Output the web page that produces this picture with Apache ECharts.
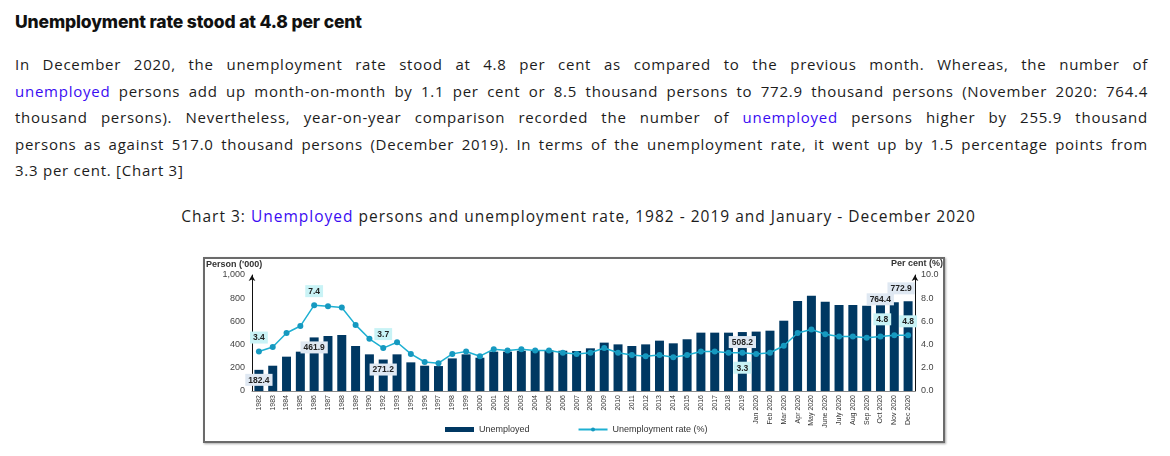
<!DOCTYPE html>
<html>
<head>
<meta charset="utf-8">
<script src="https://cdn.jsdelivr.net/npm/echarts@6/dist/echarts.min.js"></script>
<style>
  html, body { margin: 0; padding: 0; background: #fff; }
  body { width: 1170px; height: 456px; position: relative; overflow: hidden;
         font-family: "Open Sans", "Inter", sans-serif; color: #1c1c1c; }
  .title { position: absolute; left: 15px; top: 11px; font-family: "Inter", sans-serif; font-size: 17.5px;
           font-weight: 800; line-height: 22px; letter-spacing: -0.15px; color: #111; }
  .para { position: absolute; left: 15px; top: 51px; width: 1133px; font-size: 15px; letter-spacing: 0.75px; }
  .para div { height: 26.6px; line-height: 26.6px; text-align: justify; text-align-last: justify; white-space: nowrap; }
  .para div.last { text-align-last: left; }
  .blue { color: #3a0cf2; }
  .caption { position: absolute; left: 0; width: 1157px; top: 205px; text-align: center;
             font-size: 15.5px; line-height: 22px; letter-spacing: 1px; }
  #chart { position: absolute; left: 203px; top: 257px; width: 742px; height: 186px;
           box-sizing: border-box; border: 2px solid #6b6b6b; box-shadow: 1px 1px 2px #aaa; }
</style>
</head>
<body>
<div class="title">Unemployment rate stood at 4.8 per cent</div>
<div class="para">
  <div>In December 2020, the unemployment rate stood at 4.8 per cent as compared to the previous month. Whereas, the number of</div>
  <div><span class="blue">unemployed</span> persons add up month-on-month by 1.1 per cent or 8.5 thousand persons to 772.9 thousand persons (November 2020: 764.4</div>
  <div>thousand persons). Nevertheless, year-on-year comparison recorded the number of <span class="blue">unemployed</span> persons higher by 255.9 thousand</div>
  <div>persons as against 517.0 thousand persons (December 2019). In terms of the unemployment rate, it went up by 1.5 percentage points from</div>
  <div class="last">3.3 per cent. [Chart 3]</div>
</div>
<div class="caption">Chart 3: <span class="blue">Unemployed</span> persons and unemployment rate, 1982 - 2019 and January - December 2020</div>
<div id="chart"></div>

<script>
const categories = [
  "1982", "1983", "1984", "1985", "1986", "1987", "1988", "1989", "1990", "1992", "1993",
  "1995", "1996", "1997", "1998", "1999", "2000", "2001", "2002", "2003", "2004", "2005",
  "2006", "2007", "2008", "2009", "2010", "2011", "2012", "2013", "2014", "2015", "2016",
  "2017", "2018", "2019", "Jan 2020", "Feb 2020", "Mar 2020", "Apr 2020", "May 2020",
  "June 2020", "July 2020", "Aug 2020", "Sep 2020", "Oct 2020", "Nov 2020", "Dec 2020"
];

// unemployed persons ('000)
const unemployed = [
  182.4, 218, 296, 339, 461.9, 474, 483, 388, 316, 271.2, 316,
  247, 218, 215, 281, 316, 287, 339, 339, 347, 345, 350,
  347, 345, 368, 417, 402, 388, 402, 434, 411, 446, 503,
  503, 503, 508.2, 512, 520, 606, 776, 822,
  770, 741, 741, 735, 756, 764.4, 772.9
];

// unemployment rate (%)
const rate = [
  3.4, 3.8, 5.0, 5.6, 7.4, 7.3, 7.2, 5.7, 4.5, 3.7, 4.2,
  3.2, 2.5, 2.4, 3.2, 3.4, 3.0, 3.6, 3.5, 3.6, 3.5, 3.5,
  3.3, 3.2, 3.3, 3.7, 3.3, 3.1, 3.0, 3.1, 2.9, 3.1, 3.4,
  3.4, 3.3, 3.3, 3.2, 3.3, 3.9, 5.0, 5.3,
  4.9, 4.7, 4.7, 4.6, 4.7, 4.8, 4.8
];

const leftTicks = [0, 200, 400, 600, 800, 1000];
const rightTicks = [0, 2, 4, 6, 8, 10];

// points that carry a value label
const barLabelIdx = [0, 4, 9, 35, 46, 47];
const rateLabelIdx = [0, 4, 9, 35, 46, 47];

const fontFam = "Liberation Sans, Arial, sans-serif";
const labelFont = { fontFamily: fontFam, fontSize: 8.5, fontWeight: "bold", color: "#222" };

function barLabel(i) {
  let lab = Object.assign({ show: true, backgroundColor: "#dfe8f2", padding: [2, 3, 1, 3],
    position: "insideTop", distance: 4, formatter: (p) => p.value.toFixed(1) }, labelFont);
  if (i === 46) { lab.position = "top"; lab.distance = -3; lab.offset = [-14, 0]; }
  if (i === 47) { lab.position = "top"; lab.distance = 7; lab.offset = [-7, 0]; }
  return lab;
}

function rateLabel(i) {
  let lab = Object.assign({ show: true, backgroundColor: "#c9f3f6", padding: [2, 3, 1, 3],
    position: "top", distance: 5, formatter: (p) => p.value.toFixed(1) }, labelFont);
  if (i === 35) { lab.position = "bottom"; lab.distance = 6; }
  if (i === 46) { lab.distance = 7; lab.offset = [-12, 0]; }
  return lab;
}

const barData = unemployed.map((v, i) => barLabelIdx.includes(i) ? { value: v, label: barLabel(i) } : v);
const rateData = rate.map((v, i) => rateLabelIdx.includes(i) ? { value: v, label: rateLabel(i) } : v);

const chart = echarts.init(document.getElementById("chart"));
chart.setOption({
  animation: false,
  grid: { left: 47, right: 28, top: 16, bottom: 50 },
  graphic: [
    { type: "text", left: 1, top: 1, style: { text: "Person ('000)", font: "bold 9px Liberation Sans, Arial", fill: "#333" } },
    { type: "text", right: 0, top: 0, style: { text: "Per cent (%)", font: "bold 9px Liberation Sans, Arial", fill: "#333" } }
  ],
  legend: {
    left: 235, bottom: 2, itemWidth: 29, itemHeight: 5, itemGap: 48,
    textStyle: { fontFamily: fontFam, fontSize: 9, color: "#333" },
    data: [{ name: "Unemployed", icon: "rect" }, { name: "Unemployment rate (%)" }]
  },
  xAxis: {
    type: "category", data: categories,
    axisLine: { lineStyle: { color: "#8a8a8a", width: 1 } },
    axisTick: { show: false },
    axisLabel: { interval: 0, rotate: 90, fontSize: 7, margin: 4, color: "#333", fontFamily: fontFam }
  },
  yAxis: [
    {
      type: "value", min: leftTicks[0], max: leftTicks[leftTicks.length - 1], interval: 200,
      axisLine: { show: true, lineStyle: { color: "#111", width: 1 }, symbol: ["none", "arrow"], symbolSize: [5, 6] },
      axisTick: { show: false }, splitLine: { show: false },
      axisLabel: { fontSize: 9, margin: 7, color: "#444", fontFamily: fontFam, formatter: (v) => v.toLocaleString("en-US") }
    },
    {
      type: "value", min: rightTicks[0], max: rightTicks[rightTicks.length - 1], interval: 2,
      axisLine: { show: true, lineStyle: { color: "#111", width: 1 }, symbol: ["none", "arrow"], symbolSize: [5, 6] },
      axisTick: { show: false }, splitLine: { show: false },
      axisLabel: { fontSize: 9, margin: 6, color: "#444", fontFamily: fontFam, formatter: (v) => v.toFixed(1) }
    }
  ],
  series: [
    {
      name: "Unemployed", type: "bar", data: barData, barWidth: 9,
      itemStyle: { color: "#003862" }
    },
    {
      name: "Unemployment rate (%)", type: "line", yAxisIndex: 1, data: rateData,
      symbol: "circle", symbolSize: 6, z: 3,
      lineStyle: { color: "#1eb0d2", width: 1.5 },
      itemStyle: { color: "#1699c0" }
    }
  ]
});
</script>
</body>
</html>
